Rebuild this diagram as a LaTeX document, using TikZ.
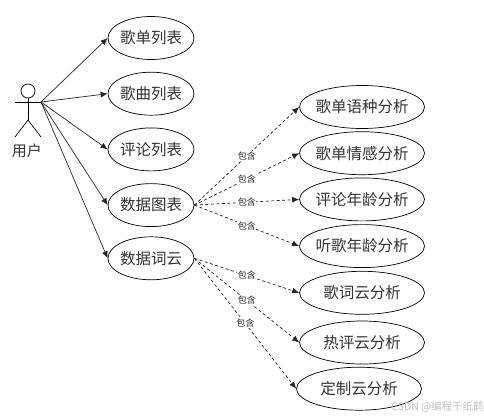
\documentclass[tikz,border=0pt]{standalone}
\usepackage{fontspec}
\setmainfont{Noto Sans CJK SC}
\usetikzlibrary{arrows.meta,positioning,shapes.geometric}

\begin{document}
\begin{tikzpicture}[x=1pt,y=1pt,line width=.7pt,node distance=12pt,
usecase/.style={draw,ellipse,inner ysep=0pt,inner xsep=-2.5pt,minimum width=86pt,minimum height=43pt,font=\fontsize{15.5}{15.5}\selectfont,text=black!80},
analysis/.style={usecase,minimum width=125pt},
arr/.style={-{Latex[length=7pt,width=6pt]},black!85},
inc/.style={arr,dash pattern=on 3pt off 2.5pt},
lab/.style={fill=white,inner sep=.5pt,font=\fontsize{9}{9}\selectfont,midway}]
\useasboundingbox (0,0) rectangle (484,-417);
% actor
\node[draw,circle,inner sep=0pt,minimum size=14pt] (head) at (28,-91) {};
\coordinate (handl) at (15,-102);\coordinate (handr) at (41,-102);
\coordinate (hip) at (28,-120);\coordinate (footl) at (15,-137);\coordinate (footr) at (41,-137);
\draw (head)--(hip);\draw (handl)--(handr);\draw (footl)--(hip)--(footr);
\node[font=\fontsize{15}{15}\selectfont,text=black!80] (user) at (27,-151) {用户};
% left column
\node[usecase] (songlist) at (151,-38) {歌单列表};
\node[usecase,below=of songlist] (songs) {歌曲列表};
\node[usecase,below=of songs] (comments) {评论列表};
\node[usecase,below=of comments] (chart) {数据图表};
\node[usecase,below=9.5pt of chart] (cloud) {数据词云};
% right column
\node[analysis] (lang) at (362,-107) {歌单语种分析};
\node[analysis,below=2.5pt of lang] (mood) {歌单情感分析};
\node[analysis,below=2.5pt of mood] (cage) {评论年龄分析};
\node[analysis,below=3pt of cage] (lage) {听歌年龄分析};
\node[analysis,below=3pt of lage] (wcloud) {歌词云分析};
\node[analysis,below=6pt of wcloud] (hot) {热评云分析};
\node[analysis,below=2.5pt of hot,xshift=-3pt] (custom) {定制云分析};
\draw[arr](handr)--(songlist.west);\draw[arr](handr)--(songs.west);\draw[arr](handr)--(comments.west);
\draw[arr](handr)--(chart.west);\draw[arr](handr)--(cloud.west);
\draw[inc](chart.east)--(lang.west) node[lab]{包含};
\draw[inc](chart.east)--(mood.west) node[lab]{包含};
\draw[inc](chart.east)--(cage.west) node[lab]{包含};
\draw[inc](chart.east)--(lage.west) node[lab]{包含};
\draw[inc](cloud.east)--(wcloud.west) node[lab]{包含};
\draw[inc](cloud.east)--(hot.west) node[lab]{包含};
\draw[inc](cloud.east)--(custom.west) node[lab]{包含};
\node[text=black!25,font=\fontsize{10.5}{10.5}\selectfont,anchor=south east,inner sep=0pt] (mark) at (484,-413) {CSDN @编程千纸鹤};
\end{tikzpicture}
\end{document}
